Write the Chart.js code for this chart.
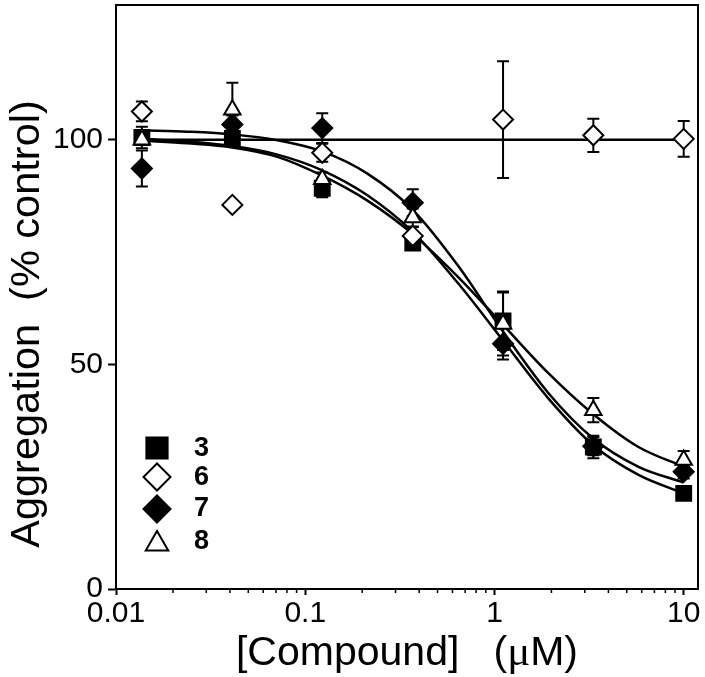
<!DOCTYPE html>
<html><head><meta charset="utf-8">
<script src="https://cdn.jsdelivr.net/npm/chart.js@4/dist/chart.umd.min.js"></script>
<style>html,body{margin:0;padding:0;background:#fff;}</style>
</head><body>
<canvas id="c" width="705" height="677"></canvas>
<script>
// ---- data ----
const concentrations = [0.0137, 0.0412, 0.123, 0.370, 1.11, 3.33, 10];
const cmpd3    = [100.5, 100.3, 89.2, 77.0, 59.7, 31.6, 21.3];
const cmpd3Err = [2.4, 1.2, 2.0, 1.5, 6.5, 2.5, 0.8];
const cmpd6    = [106.3, 85.5, 97.1, 78.6, 104.5, 101.0, 100.2];
const cmpd6Err = [2.2, 0, 2.0, 2.0, 13.0, 3.7, 4.0];
const cmpd7    = [93.6, 103.4, 102.6, 86.0, 54.6, 31.8, 26.1];
const cmpd7Err = [4.0, 2.0, 3.3, 3.0, 3.5, 2.0, 1.5];
const cmpd8    = [100.0, 106.7, 91.2, 82.7, 59.0, 39.8, 28.7];
const cmpd8Err = [1.0, 6.0, 1.5, 2.0, 7.0, 2.7, 2.0];

// fitted curves
const fitX  = [0.0137, 0.0238, 0.0412, 0.0713, 0.123, 0.214, 0.370, 0.641, 1.11, 1.92, 3.33, 5.77, 10];
const fit3  = [100.2, 99.6, 98.6, 96.7, 93.2, 87.6, 79.5, 68.1, 55.3, 42.5, 32.0, 25.4, 21.3];
const fit7  = [102.1, 101.8, 101.2, 99.9, 97.4, 92.4, 84.4, 72.0, 57.3, 43.7, 33.5, 27.2, 23.7];
const fit8  = [99.8, 99.2, 98.3, 96.2, 92.0, 86.4, 79.0, 69.5, 58.8, 48.1, 38.9, 31.6, 27.2];
const fit6X = [0.0137, 10];
const fit6  = [100.0, 100.0];

const seriesNames = ['3', '6', '7', '8'];
const yTicks = [0, 50, 100];
const xMajorTicks = [0.01, 0.1, 1, 10];
const xMajorLabels = ['0.01', '0.1', '1', '10'];
const xMinorTicks = [0.02,0.03,0.04,0.05,0.06,0.07,0.08,0.09,0.2,0.3,0.4,0.5,0.6,0.7,0.8,0.9,2,3,4,5,6,7,8,9];
const xTitle = ['[Compound]   (', 'μ', 'M)'];
const yTitle = 'Aggregation  (% control)';

// ---- build ----
const pts = (xs, ys) => xs.map((x, i) => ({x: x, y: ys[i]}));
const SANS = '"Liberation Sans", Arial, sans-serif';

const markerStyles = [
  {pointStyle: 'rect', radius: 10.5, fill: '#000', lRadius: 15},
  {pointStyle: 'rectRot', radius: 10, fill: '#fff', lRadius: 13.5},
  {pointStyle: 'rectRot', radius: 10, fill: '#000', lRadius: 13.5},
  {pointStyle: 'triangle', radius: 9.5, fill: '#fff', lRadius: 13}
];
const seriesData = [cmpd3, cmpd6, cmpd7, cmpd8];
const seriesErr = [cmpd3Err, cmpd6Err, cmpd7Err, cmpd8Err];
const drawOrder = [4, 3, 2, 1];

const lineDs = (xs, ys) => ({
  data: pts(xs, ys), showLine: true, pointRadius: 0, borderColor: '#000',
  borderWidth: 2.5, cubicInterpolationMode: 'monotone', fill: false, order: 10, clip: false
});

const datasets = [
  lineDs(fitX, fit3), lineDs(fit6X, fit6), lineDs(fitX, fit7), lineDs(fitX, fit8)
];
seriesData.forEach((d, i) => {
  datasets.push({
    label: seriesNames[i], data: pts(concentrations, d), showLine: false,
    pointStyle: markerStyles[i].pointStyle, pointRadius: markerStyles[i].radius,
    backgroundColor: markerStyles[i].fill, borderColor: '#000', borderWidth: 2,
    order: drawOrder[i], clip: false
  });
});

const errorBars = {
  id: 'errorBars',
  beforeDatasetsDraw(chart) {
    const {ctx, scales: {x, y}} = chart;
    ctx.save();
    ctx.strokeStyle = '#000'; ctx.lineWidth = 2;
    seriesData.forEach((d, i) => {
      d.forEach((v, j) => {
        const e = seriesErr[i][j];
        if (!e) return;
        const px = x.getPixelForValue(concentrations[j]);
        const yt = y.getPixelForValue(v + e), yb = y.getPixelForValue(v - e);
        ctx.beginPath();
        ctx.moveTo(px, yt); ctx.lineTo(px, yb);
        ctx.moveTo(px - 6, yt); ctx.lineTo(px + 6, yt);
        ctx.moveTo(px - 6, yb); ctx.lineTo(px + 6, yb);
        ctx.stroke();
      });
    });
    ctx.restore();
  }
};

const frameAndText = {
  id: 'frameAndText',
  afterDraw(chart) {
    const {ctx, chartArea: a, scales: {x}} = chart;
    ctx.save();
    ctx.strokeStyle = '#000'; ctx.lineWidth = 2;
    ctx.beginPath();
    ctx.moveTo(a.left, a.top); ctx.lineTo(a.right, a.top); ctx.lineTo(a.right, a.bottom);
    ctx.stroke();
    // minor x ticks (shorter than major)
    ctx.lineWidth = 1.5;
    ctx.beginPath();
    xMinorTicks.forEach(v => {
      const px = x.getPixelForValue(v);
      ctx.moveTo(px, a.bottom); ctx.lineTo(px, a.bottom + 4);
    });
    ctx.stroke();
    // legend
    const lx = 157, ly = [448, 477, 509, 544];
    seriesNames.forEach((n, i) => {
      ctx.fillStyle = markerStyles[i].fill; ctx.strokeStyle = '#000'; ctx.lineWidth = 2;
      Chart.helpers.drawPoint(ctx, {pointStyle: markerStyles[i].pointStyle, radius: markerStyles[i].lRadius, borderWidth: 2, rotation: 0}, lx, ly[i]);
      ctx.fillStyle = '#000';
      ctx.font = 'bold 27px ' + SANS;
      ctx.textAlign = 'left'; ctx.textBaseline = 'middle';
      ctx.fillText(n, 194, [448, 477, 508, 541][i] + 1);
    });
    // x title
    ctx.fillStyle = '#000'; ctx.textBaseline = 'alphabetic'; ctx.textAlign = 'left';
    const fonts = ['41px ' + SANS, '43px "Liberation Serif", serif', '41px ' + SANS];
    let w = 0;
    xTitle.forEach((s, i) => { ctx.font = fonts[i]; w += ctx.measureText(s).width; });
    let cx = (a.left + a.right) / 2 - w / 2;
    xTitle.forEach((s, i) => { ctx.font = fonts[i]; ctx.fillText(s, cx, 665); cx += ctx.measureText(s).width; });
    // y title
    ctx.translate(28, 324); ctx.rotate(-Math.PI / 2);
    ctx.font = '41.5px ' + SANS; ctx.textAlign = 'center'; ctx.textBaseline = 'middle';
    ctx.fillText(yTitle, 0, 0);
    ctx.restore();
  }
};

new Chart(document.getElementById('c'), {
  type: 'scatter',
  data: {datasets},
  options: {
    responsive: false, animation: false, devicePixelRatio: 1,
    layout: {autoPadding: false, padding: {top: 5, right: 7, left: 0, bottom: 0}},
    plugins: {legend: {display: false}, tooltip: {enabled: false}, title: {display: false}},
    scales: {
      x: {
        type: 'logarithmic', min: 0.01, max: 11.9, position: 'bottom',
        border: {display: true, color: '#000', width: 2},
        grid: {display: true, drawOnChartArea: false, drawTicks: true, tickLength: 6, tickColor: '#000', tickWidth: 2},
        afterBuildTicks: (axis) => { axis.ticks = xMajorTicks.map(v => ({value: v})); },
        ticks: {
          autoSkip: false, maxRotation: 0, color: '#000', padding: 1,
          font: {family: SANS, size: 30},
          callback: (v) => { const k = xMajorTicks.indexOf(v); return k >= 0 ? xMajorLabels[k] : ''; }
        },
        afterFit: (s) => { s.height = 88; s.paddingLeft = 0; s.paddingRight = 0; }
      },
      y: {
        type: 'linear', min: 0, max: 130,
        border: {display: true, color: '#000', width: 2},
        grid: {display: true, drawOnChartArea: false, drawTicks: true, tickLength: 8, tickColor: '#000', tickWidth: 2},
        afterBuildTicks: (axis) => { axis.ticks = yTicks.map(v => ({value: v})); },
        ticks: {color: '#000', padding: 5, font: {family: SANS, size: 30}, callback: (v) => String(v)},
        afterFit: (s) => { s.width = 116; s.paddingTop = 0; s.paddingBottom = 0; }
      }
    }
  },
  plugins: [errorBars, frameAndText]
});
</script>
</body></html>
